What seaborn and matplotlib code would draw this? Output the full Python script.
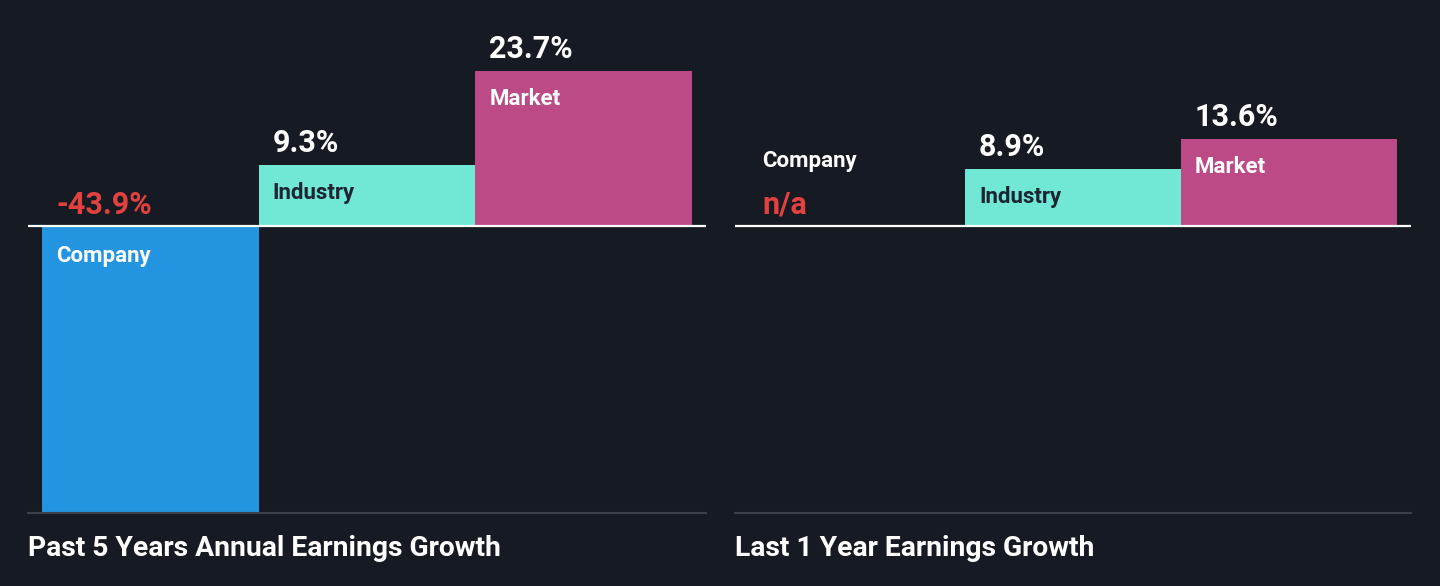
import numpy as np
import matplotlib
matplotlib.use("Agg")
import matplotlib.pyplot as plt
import seaborn as sns

# data
categories = ["Company", "Industry", "Market"]
past5_values = [-43.9, 9.3, 23.7]
past5_labels = ["-43.9%", "9.3%", "23.7%"]
last1_values = [np.nan, 8.9, 13.6]
last1_labels = ["n/a", "8.9%", "13.6%"]
titles = ["Past 5 Years Annual Earnings Growth", "Last 1 Year Earnings Growth"]

bg = "#151a23"
palette = {"Company": "#2394df", "Industry": "#71e7d6", "Market": "#bb4a86"}
red = "#e3413f"

sns.set_theme(style="dark")
plt.rcParams["font.family"] = ["Roboto", "DejaVu Sans"]

W, H = 1440, 586
fig = plt.figure(figsize=(W / 100, H / 100), dpi=100, facecolor=bg)

LAB_FS = 16
VAL_FS = 22


def make_axes(x0, x1, top, bottom):
    return fig.add_axes([x0 / W, (H - bottom) / H, (x1 - x0) / W, (bottom - top) / H])


def panel(ax, values, labels, title, scale, title_x):
    ax.set_facecolor(bg)
    sns.barplot(x=categories, y=values, hue=categories, order=categories,
                palette=palette, saturation=1, width=1.0, linewidth=0,
                legend=False, ax=ax)
    ax.set_xlim(-0.565, 2.565)
    ax.set_ylim(-(513 - 226) / scale, (226 - 30) / scale)
    for s in ["top", "left", "right"]:
        ax.spines[s].set_visible(False)
    ax.spines["bottom"].set_color("#3b4049")
    ax.spines["bottom"].set_linewidth(1.5)
    ax.set_xticks([])
    ax.set_yticks([])
    ax.set_xlabel("")
    ax.set_ylabel("")
    ax.axhline(0, color="white", lw=1.6, zorder=5)

    for i, (cat, v, lab) in enumerate(zip(categories, values, labels)):
        left = i - 0.5
        if np.isnan(v):
            ax.annotate(cat, (left, 0), xytext=(13, 65), textcoords="offset pixels",
                        color="white", fontsize=LAB_FS, fontweight="bold", va="center")
            ax.annotate(lab, (left, 0), xytext=(13, 21), textcoords="offset pixels",
                        color=red, fontsize=VAL_FS, fontweight="bold", va="center")
        elif v < 0:
            ax.annotate(cat, (left, 0), xytext=(14, -30), textcoords="offset pixels",
                        color="white", fontsize=LAB_FS, fontweight="bold", va="center")
            ax.annotate(lab, (left, 0), xytext=(14, 21), textcoords="offset pixels",
                        color=red, fontsize=VAL_FS, fontweight="bold", va="center")
        else:
            txt_col = "#1c2530" if cat == "Industry" else "white"
            ax.annotate(cat, (left, v), xytext=(14, -28), textcoords="offset pixels",
                        color=txt_col, fontsize=LAB_FS, fontweight="bold", va="center")
            ax.annotate(lab, (left, v), xytext=(14, 22), textcoords="offset pixels",
                        color="white", fontsize=VAL_FS, fontweight="bold", va="center")

    fig.text(title_x / W, (H - 549) / H, title, color="white", fontsize=20.3,
             fontweight="bold", va="center", ha="left")


ax1 = make_axes(28, 706, 30, 513)
panel(ax1, past5_values, past5_labels, titles[0], 287 / 43.9, 28)

ax2 = make_axes(735, 1411, 30, 513)
panel(ax2, last1_values, last1_labels, titles[1], 6.4, 735)

fig.savefig("out.png", dpi=100, facecolor=bg)
